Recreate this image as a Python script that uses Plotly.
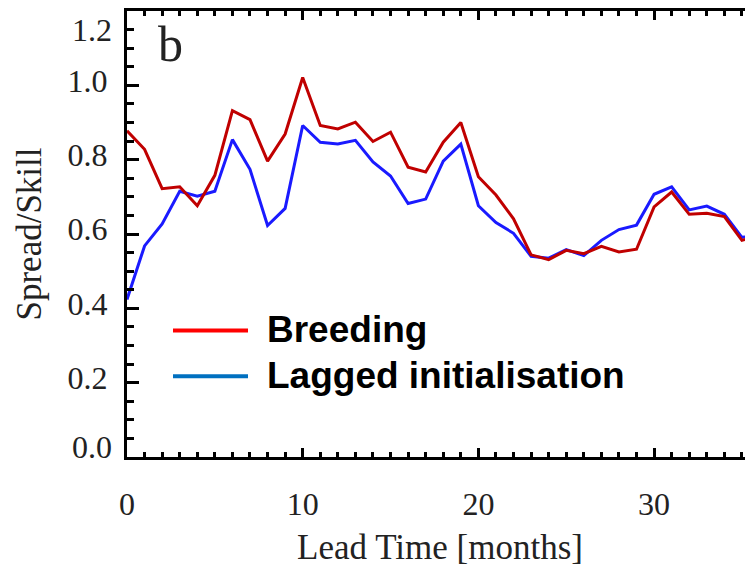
import plotly.graph_objects as go

# ---- data ----
months = list(range(37))
breeding = [0.878, 0.828, 0.722, 0.727, 0.676, 0.758, 0.932, 0.908, 0.796, 0.869,
            1.021, 0.892, 0.883, 0.901, 0.849, 0.874, 0.780, 0.767, 0.847, 0.900,
            0.754, 0.705, 0.641, 0.544, 0.531, 0.556, 0.547, 0.567, 0.552, 0.559,
            0.673, 0.713, 0.653, 0.656, 0.647, 0.583, 0.595]
lagged = [0.424, 0.568, 0.627, 0.715, 0.702, 0.715, 0.854, 0.774, 0.623, 0.669,
          0.892, 0.847, 0.842, 0.852, 0.794, 0.756, 0.682, 0.694, 0.796, 0.842,
          0.676, 0.631, 0.602, 0.540, 0.535, 0.558, 0.542, 0.583, 0.612, 0.624,
          0.707, 0.727, 0.665, 0.675, 0.653, 0.591, 0.597]
x_ticks = [0, 10, 20, 30]
y_ticks = [0.0, 0.2, 0.4, 0.6, 0.8, 1.0, 1.2]
y_ticktext = ["0.0", "0.2", "0.4", "0.6", "0.8", "1.0", "1.2"]
series_names = ["Breeding", "Lagged initialisation"]

# ---- layout geometry (page body has an 8px margin) ----
OFF = 8
W, H = 753 - OFF, 567 - OFF
L, R, T, B = 119, 0, 1, 110
PW, PH = W - L - R, H - T - B


def px(xpage):
    return (xpage - OFF - L) / PW


def py(ypage):
    return (H - B - (ypage - OFF)) / PH


SERIF = "Liberation Serif, Times New Roman, serif"
SANS = "Liberation Sans, Arial, sans-serif"
TXT = "#222222"

fig = go.Figure()
fig.add_trace(go.Scatter(x=months, y=lagged, mode="lines", name=series_names[1],
                         line=dict(color="#1a1aff", width=3), yaxis="y"))
fig.add_trace(go.Scatter(x=months, y=breeding, mode="lines", name=series_names[0],
                         line=dict(color="#c00000", width=3), yaxis="y2"))

axis_common = dict(showgrid=False, zeroline=False, tickcolor="black", tickwidth=3)
YR = [0, 1.2001]

# end labels are drawn separately (IDL places them inside the axis span)
axis_ticktext = [""] + y_ticktext[1:-1] + [""]

fig.update_layout(
    width=W, height=H, margin=dict(l=L, r=R, t=T, b=B, pad=0),
    paper_bgcolor="white", plot_bgcolor="white", showlegend=False,
    xaxis=dict(range=[0, 35.63], tickvals=x_ticks, ticks="inside", ticklen=9,
               showline=True, linewidth=3, linecolor="black", mirror="ticks",
               minor=dict(dtick=1, tick0=0, ticks="inside", ticklen=5, tickwidth=3, tickcolor="black"),
               tickfont=dict(family=SERIF, size=32, color=TXT),
               ticklabelstandoff=17,
               title=dict(text="Lead Time [months]", font=dict(family=SERIF, size=35, color=TXT), standoff=19),
               **axis_common),
    yaxis=dict(range=YR, tickvals=y_ticks, ticktext=axis_ticktext, ticks="inside", ticklen=12,
               showline=True, linewidth=3, linecolor="black", mirror=False,
               minor=dict(dtick=0.05, tick0=0, ticks="inside", ticklen=7, tickwidth=3, tickcolor="black"),
               tickfont=dict(family=SERIF, size=32, color=TXT),
               ticklabelshift=-5, ticklabelstandoff=10,
               title=dict(text="Spread/Skill", font=dict(family=SERIF, size=35, color=TXT), standoff=16),
               **axis_common),
    yaxis2=dict(range=YR, overlaying="y", side="right", matches="y", tickvals=y_ticks,
                ticks="inside", ticklen=7, showticklabels=False, showline=False,
                minor=dict(dtick=0.05, tick0=0, ticks="inside", ticklen=3, tickwidth=3, tickcolor="black"),
                **axis_common),
)

# end tick labels of the y axis
for val, txt, shift in [(y_ticks[0], y_ticktext[0], 10), (y_ticks[-1], y_ticktext[-1], -19)]:
    fig.add_annotation(text=txt, xref="paper", yref="y", x=px(114), y=val, yshift=shift,
                       showarrow=False, xanchor="right", yanchor="middle",
                       font=dict(family=SERIF, size=32, color=TXT))

# panel letter
fig.add_annotation(text="b", xref="paper", yref="paper", x=px(170), y=py(42),
                   showarrow=False, font=dict(family=SERIF, size=50, color=TXT),
                   xanchor="center", yanchor="middle")

# legend
legend_colors = ["#ff0000", "#0070c0"]
legend_y = [330, 376]
for name, col, yy in zip(series_names, legend_colors, legend_y):
    fig.add_shape(type="line", xref="paper", yref="paper", x0=px(173), x1=px(248),
                  y0=py(yy), y1=py(yy), line=dict(color=col, width=4))
    fig.add_annotation(text="<b>%s</b>" % name, xref="paper", yref="paper", x=px(265), y=py(yy - 1),
                       showarrow=False, xanchor="left", yanchor="middle",
                       font=dict(family=SANS, size=37, color="black"))

fig.write_html("out.html")
